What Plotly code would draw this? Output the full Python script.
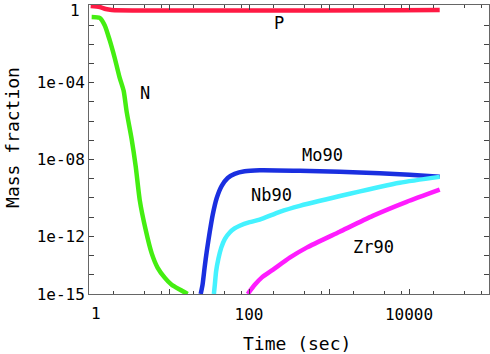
import plotly.graph_objects as go

# Tiempo (s) y fracción de masa
p_time = [1.05, 1.36, 1.62, 1.92, 24200]
p_frac = [1.0, 0.89, 0.69, 0.62, 0.62]

n_time = [1.08, 1.36, 1.57, 1.81, 2.10, 2.42, 2.71, 2.96, 3.42, 3.84, 4.30,
          5.11, 6.08, 7.22, 8.83, 10.8, 13.6, 17.1]
n_frac = [2.7e-1, 2.4e-1, 1.0e-1, 1.7e-2, 1.9e-3, 1.8e-4, 3.8e-5, 3.0e-6,
          1.1e-7, 4.2e-9, 8.1e-11, 2.2e-12, 1.3e-13, 2.3e-14, 7.1e-15,
          3.0e-15, 1.7e-15, 1.0e-15]

mo_time = [24.9, 26.3, 27.9, 29.6, 32.3, 35.2, 39.5, 45.6, 54.2, 66.2, 88.3,
           136, 430, 1360, 4300, 10200, 24200]
mo_frac = [1.0e-15, 3.2e-15, 2.5e-14, 1.6e-13, 1.7e-12, 1.35e-11, 1.0e-10,
           4.3e-10, 1.1e-9, 1.8e-9, 2.45e-9, 2.75e-9, 2.6e-9, 2.3e-9,
           1.95e-9, 1.6e-9, 1.26e-9]

nb_time = [36.4, 37.4, 38.8, 41.5, 45.0, 50.0, 57.4, 66.0, 76.5, 102, 136,
           242, 430, 1816, 7650, 24200]
nb_frac = [1.0e-15, 3.0e-15, 1.5e-14, 7.0e-14, 2.6e-13, 7.5e-13, 1.6e-12,
           2.6e-12, 3.6e-12, 5.5e-12, 7.4e-12, 1.9e-11, 3.9e-11, 1.66e-10,
           6.2e-10, 1.26e-9]

zr_time = [96.3, 118, 144, 198, 323, 526, 1360, 3520, 9350, 24200]
zr_frac = [1.0e-15, 3.0e-15, 7.1e-15, 1.8e-14, 7.8e-14, 2.6e-13, 1.74e-12,
           1.17e-11, 6.3e-11, 2.7e-10]

series = [
    ("P", p_time, p_frac, "#ff1a44"),
    ("N", n_time, n_frac, "#44ee11"),
    ("Mo90", mo_time, mo_frac, "#1a2fe0"),
    ("Nb90", nb_time, nb_frac, "#44f2ff"),
    ("Zr90", zr_time, zr_frac, "#ff1cff"),
]

# Etiquetas dentro del gráfico (log10 de x, log10 de y)
labels = [
    ("P", 2.38, -0.9),
    ("N", 0.70, -4.53),
    ("Mo90", 2.92, -7.75),
    ("Nb90", 2.28, -9.83),
    ("Zr90", 3.55, -12.54),
]

FONT = "DejaVu Sans Mono"

fig = go.Figure()
for name, t, f, color in series:
    fig.add_trace(go.Scatter(
        x=t, y=f, mode="lines", name=name,
        line=dict(color=color, width=4.5, shape="spline", smoothing=0.6),
    ))

for text, lx, ly in labels:
    fig.add_annotation(x=lx, y=ly, text=text, showarrow=False,
                       font=dict(family=FONT, size=17, color="black"))

tick_font = dict(family=FONT, size=16, color="black")

# Los "1" de los ejes van algo desplazados hacia dentro, como en el original
fig.add_annotation(x=0, y=1, xref="paper", yref="paper", text="1", showarrow=False,
                   xanchor="right", yanchor="middle", xshift=-7, yshift=-5, font=tick_font)
fig.add_annotation(x=0, y=0, xref="paper", yref="paper", text="1", showarrow=False,
                   xanchor="center", yanchor="top", xshift=7, yshift=-8, font=tick_font)

fig.add_annotation(x=0.52, y=-0.17, xref="paper", yref="paper", text="Time (sec)",
                   showarrow=False, yanchor="middle",
                   font=dict(family=FONT, size=18, color="black"))
fig.add_annotation(x=-0.19, y=0.54, xref="paper", yref="paper", text="Mass fraction",
                   showarrow=False, textangle=-90, xanchor="center", yanchor="middle",
                   font=dict(family=FONT, size=18, color="black"))

axis_style = dict(
    showline=True, linecolor="#666666", linewidth=1, mirror="ticks",
    ticks="inside", ticklen=5, tickcolor="#444444", showgrid=False, zeroline=False,
    tickfont=tick_font, automargin=False,
)

fig.update_xaxes(
    type="log", range=[0, 5],
    tickvals=[1, 10, 100, 1000, 10000],
    ticktext=["", "", "100", "", "10000"],
    minor=dict(tickvals=[2, 5, 8, 20, 50, 80, 200, 500, 800, 2000, 5000, 8000,
                         20000, 50000, 80000],
               ticks="inside", ticklen=3, tickcolor="#444444"),
    ticklabelstandoff=6,
    **axis_style,
)
fig.update_yaxes(
    type="log", range=[-15, 0.05],
    tickvals=[1, 1e-1, 1e-2, 1e-3, 1e-4, 1e-5, 1e-6, 1e-7, 1e-8, 1e-9, 1e-10,
              1e-11, 1e-12, 1e-13, 1e-14, 1e-15],
    ticktext=["", "", "", "", "1e-04", "", "", "", "1e-08", "", "", "",
              "1e-12", "", "", "1e-15"],
    **axis_style,
)

fig.update_layout(
    width=490, height=354,
    margin=dict(l=89, r=1, t=5, b=60),
    plot_bgcolor="white", paper_bgcolor="white",
    showlegend=False,
)

# Quitar el margen del body para que la figura empiece en la esquina
fig.write_html("out.html", config={"displayModeBar": False},
               post_script="document.body.style.margin='0';")
